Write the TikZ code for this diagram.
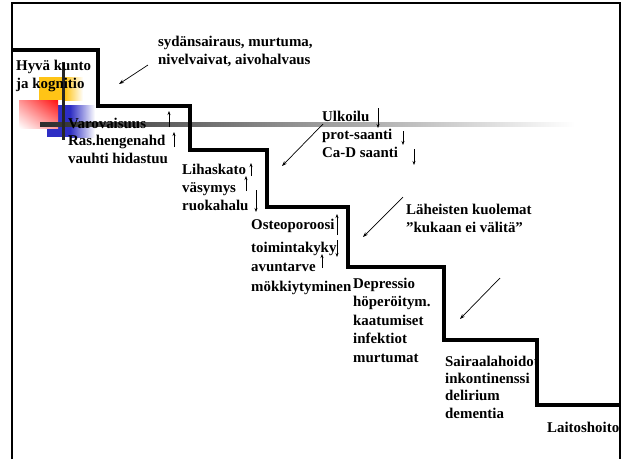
\documentclass[tikz,border=0pt]{standalone}
\usepackage{fontspec}
\setmainfont{Liberation Serif}
\usetikzlibrary{arrows.meta,shadings}
\definecolor{sqyellow}{HTML}{FFC416}
\definecolor{sqred}{HTML}{FF1010}
\definecolor{sqblue}{HTML}{2E2EC4}
\tikzset{
  txt/.style={font=\fontsize{14.9}{#1}\selectfont\bfseries, align=left, inner sep=0pt, anchor=base west},
  txt/.default=18,
  stairline/.style={line width=4pt, line join=miter},
  frameline/.style={line width=2.2pt},
  updown/.style={line width=0.7pt, -{Stealth[length=4pt,width=3pt]}},
  diag/.style={line width=0.7pt, -{Stealth[length=5pt,width=3.5pt]}}
}
\begin{document}
\begin{tikzpicture}[x=1pt,y=-1pt]
\useasboundingbox (0,0) rectangle (625,459);
% frame
\draw[frameline] (12,459) -- (12,3) -- (620,3) -- (620,459);
% decorative squares
\fill[sqyellow] (39,77) rectangle (65,100);
\shade[left color=sqyellow, right color=white] (65,77) rectangle (83,100);
\fill[sqblue] (47,105) rectangle (70,137);
\shade[left color=sqblue, right color=white] (70,105) rectangle (95,137);
\shade[upper right=sqred, upper left=sqred!45!white, lower right=sqred!45!white, lower left=white] (19,100) rectangle (58,128);
% gray bar
\shade[left color=black!82, right color=white] (40,122.3) rectangle (575,126);
\fill[black!85] (61.5,62) rectangle (64.5,140);
% stairs
\draw[stairline] (12,50) -- (98,50) -- (98,106) -- (190,106) -- (190,150) -- (267,150) -- (267,207) -- (348,207) -- (348,267) -- (444,267) -- (444,340) -- (537,340) -- (537,405) -- (620,405);
% texts (anchor = baseline of last line)
\node[txt] (t1) at (158,64) {sydänsairaus, murtuma,\\nivelvaivat, aivohalvaus};
\node[txt] (t2) at (16,88) {Hyvä kunto\\ja kognitio};
\node[txt=17.5] (t3) at (68,163) {Varovaisuus\\Ras.hengenahd\\vauhti hidastuu};
\node[txt] (t4) at (322,157) {Ulkoilu\\prot-saanti\\Ca-D saanti};
\node[txt] (t5) at (182,210) {Lihaskato\\väsymys\\ruokahalu};
\node[txt] (t6) at (251,229) {Osteoporoosi};
\node[txt=19.5] (t7) at (251,291) {toimintakyky\\avuntarve\\mökkiytyminen};
\node[txt=18.5] (t8) at (353,362) {Depressio\\höperöitym.\\kaatumiset\\infektiot\\murtumat};
\node[txt] (t9) at (406,232) {Läheisten kuolemat\\”kukaan ei välitä”};
\node[txt=17.3] (t10) at (445,418) {Sairaalahoidot\\inkontinenssi\\delirium\\dementia};
\node[txt] (t11) at (547,432) {Laitoshoito};
% small up/down arrows
\draw[updown] (169,127) -- (169,111);
\draw[updown] (174,147) -- (174,132);
\draw[updown] (378,108) -- (378,128);
\draw[updown] (403,131) -- (403,145);
\draw[updown] (414,149) -- (414,165);
\draw[updown] (251,176) -- (251,163);
\draw[updown] (246,191) -- (246,176);
\draw[updown] (256,190) -- (256,212);
\draw[updown] (337,235) -- (337,214);
\draw[updown] (337,240) -- (337,257);
\draw[updown] (322,268) -- (322,254);
% diagonal arrows
\draw[diag] (148,65) -- (119,84);
\draw[diag] (323,124) -- (282,166);
\draw[diag] (403,197) -- (363,237);
\draw[diag] (500,278) -- (460,319);
\end{tikzpicture}
\end{document}
